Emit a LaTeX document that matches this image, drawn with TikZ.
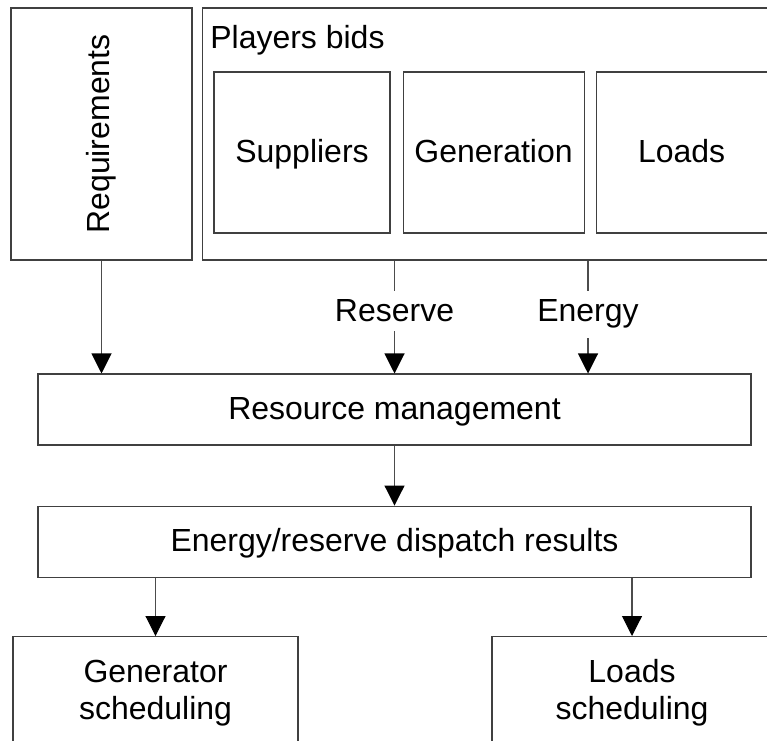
\documentclass[tikz,border=0pt]{standalone}
\usepackage{fontspec}
\setmainfont{Liberation Sans}
\usepackage{tikz}
\usetikzlibrary{positioning,arrows.meta}

\tikzset{
  box/.style={draw=black!75, line width=0.6pt, fill=white, inner sep=0pt, align=center},
  oneline/.style={text height=0.46cm, text depth=0.06cm},
  arr/.style={draw=black!70, line width=0.6pt, -{Triangle[width=0.4cm,length=0.4cm,color=black]}},
  lbl/.style={fill=white, inner sep=0.18cm, anchor=base},
}

\begin{document}
\begin{tikzpicture}[font=\fontsize{18.2}{21}\selectfont]
    \clip (0,0) rectangle (15.34,-14.8);

    % inputs
    \node[box, minimum width=3.62cm, minimum height=5.04cm] (req) at (2.03,-2.68) {\rotatebox{90}{Requirements}};
    \node[box, right=0.18cm of req, minimum width=11.48cm, minimum height=5.04cm] (bids) {};
    \node[anchor=base west, inner sep=0pt] (title) at (4.2,-0.96) {Players bids};

    \node[box, oneline, minimum width=3.52cm, minimum height=3.22cm] (sup) at (6.04,-3.05) {Suppliers};
    \node[box, oneline, right=0.24cm of sup, minimum width=3.62cm, minimum height=3.22cm] (gen) {Generation};
    \node[box, oneline, right=0.22cm of gen, minimum width=3.42cm, minimum height=3.22cm] (lds) {Loads};

    % market
    \node[box, oneline, minimum width=14.26cm, minimum height=1.42cm] (rm) at (7.89,-8.19) {Resource management};
    \node[box, oneline, below=1.2cm of rm, minimum width=14.26cm, minimum height=1.42cm] (er) {Energy/reserve dispatch results};

    % outputs
    \node[box, anchor=north, minimum width=5.7cm, minimum height=2.26cm] (gs) at (3.11,-12.72) {Generator\\scheduling};
    \node[box, anchor=north, minimum width=5.6cm, minimum height=2.26cm] (ls) at (12.64,-12.72) {Loads\\scheduling};

    \coordinate (en) at (11.76,0);

    \draw[arr] (req) -- (req |- rm.north);
    \draw[arr] (bids.south -| rm) -- node[lbl, pos=0.544] {Reserve} (rm.north);
    \draw[arr] (bids.south -| en) -- node[lbl, pos=0.544] {Energy} (rm.north -| en);
    \draw[arr] (rm) -- (er);
    \draw[arr] (gs |- er.south) -- (gs.north);
    \draw[arr] (ls |- er.south) -- (ls.north);
\end{tikzpicture}
\end{document}
